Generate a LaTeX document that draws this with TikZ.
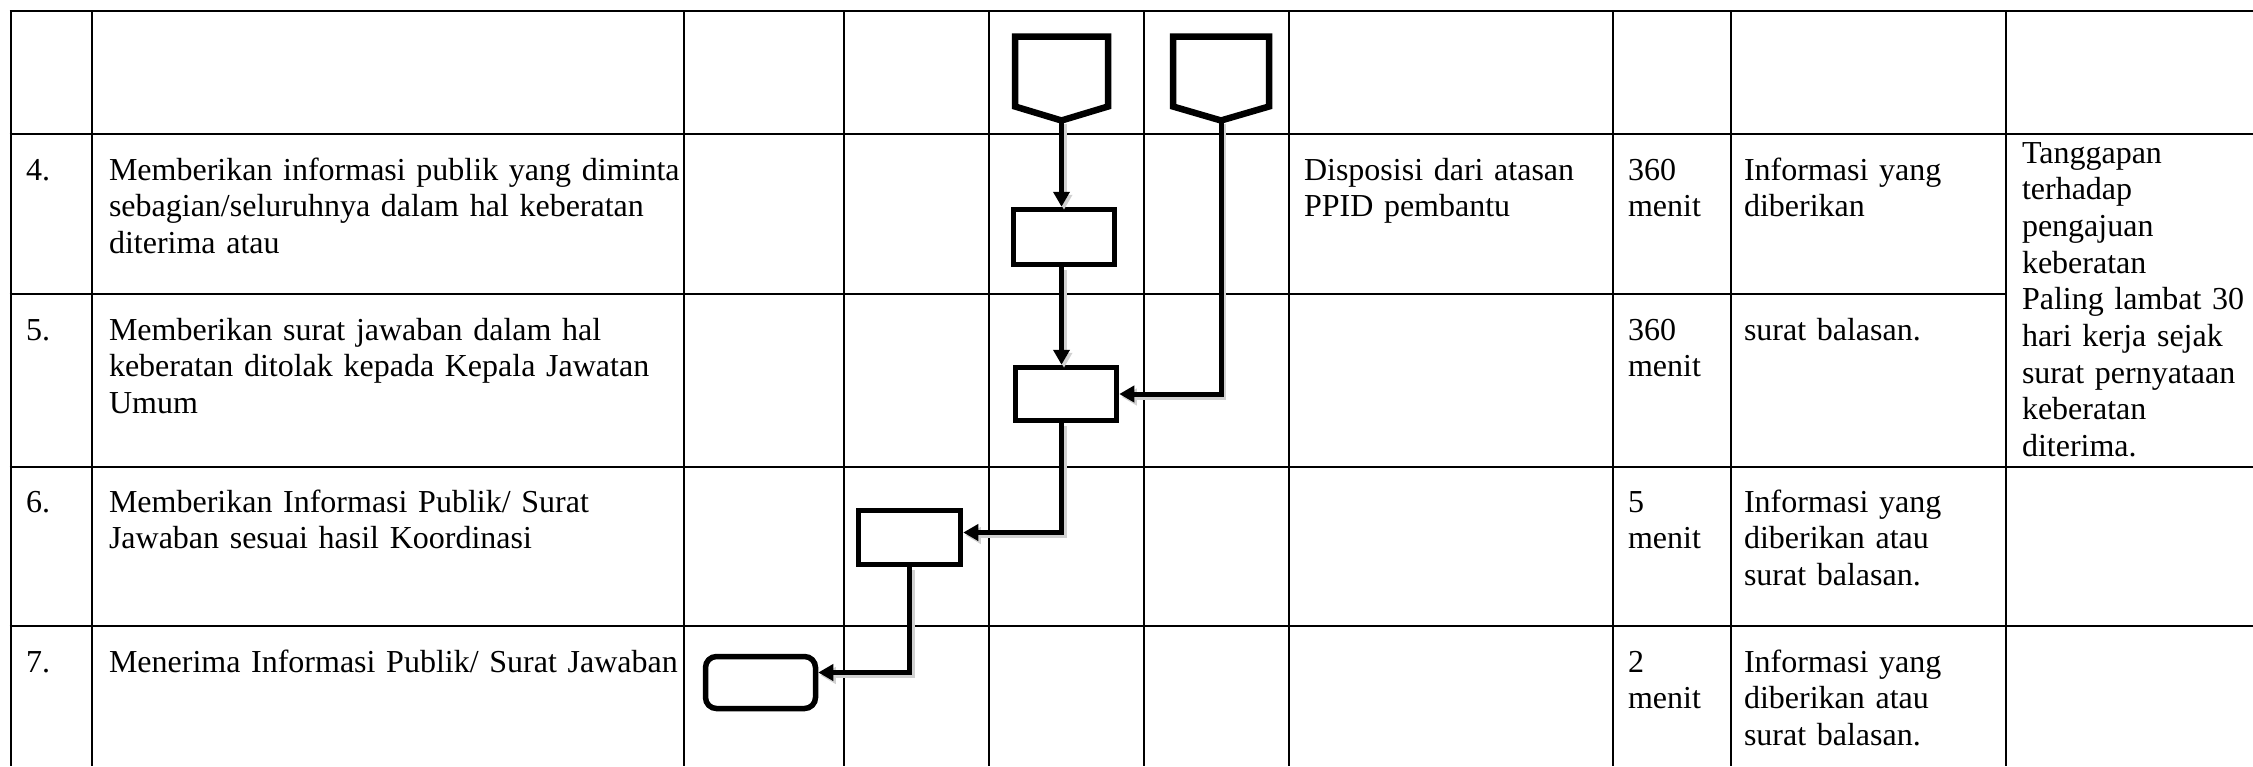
\documentclass[tikz,border=0pt]{standalone}
\usepackage{fontspec}
\setmainfont{Liberation Serif}
\usetikzlibrary{arrows.meta,calc}
\begin{document}
\begin{tikzpicture}[x=1pt,y=-1pt,
  gridline/.style={line width=2pt},
  cell/.style={anchor=base west, inner sep=0pt, outer sep=0pt, align=left, text width=#1,
    font=\fontsize{32pt}{36.7pt}\selectfont},
  cell/.default=800pt,
  box/.style={draw, line width=5.5pt, inner sep=0pt, outer sep=2.75pt},
  anchorbox/.style={inner sep=0pt, outer sep=0pt},
  penta/.style={line width=6.5pt, line join=miter},
  conn/.style={line width=5pt, -{Triangle[length=15pt,width=16pt]},
    preaction={draw=black!18, line width=5pt, -{Triangle[length=15pt,width=16pt]},
      transform canvas={shift={(2.5pt,-3pt)}}}}
]
\useasboundingbox (0,0) rectangle (2253,766);
\fill[white] (0,0) rectangle (2253,766);

% grid
\foreach \x in {10.5,92,684,844,989,1144,1289,1613,1731,2006}
  \draw[gridline] (\x,10) -- (\x,766);
\draw[gridline] (9.5,11) -- (2253,11);
\draw[gridline] (9.5,134) -- (2253,134);
\draw[gridline] (9.5,294) -- (2006,294);
\draw[gridline] (9.5,467) -- (2253,467);
\draw[gridline] (9.5,626) -- (2253,626);

% row 4
\node[cell=200pt] (n4) at (26,180) {4.};
\node[cell] (t4) at (109,180) {Memberikan informasi publik yang diminta\\sebagian/seluruhnya dalam hal keberatan\\diterima atau};
\node[cell=400pt] (d4) at (1304,180) {Disposisi dari atasan\\PPID pembantu};
\node[cell=200pt] (w4) at (1628,180) {360\\menit};
\node[cell=400pt] (o4) at (1744,180) {Informasi yang\\diberikan};
\node[cell=400pt] (k45) at (2022,163) {Tanggapan\\terhadap\\pengajuan\\keberatan\\Paling lambat 30\\hari kerja sejak\\surat pernyataan\\keberatan\\diterima.};

% row 5
\node[cell=200pt] (n5) at (26,340) {5.};
\node[cell] (t5) at (109,340) {Memberikan surat jawaban dalam hal\\keberatan ditolak kepada Kepala Jawatan\\Umum};
\node[cell=200pt] (w5) at (1628,340) {360\\menit};
\node[cell=400pt] (o5) at (1744,340) {surat balasan.};

% row 6
\node[cell=200pt] (n6) at (26,512) {6.};
\node[cell] (t6) at (109,512) {Memberikan Informasi Publik/ Surat\\Jawaban sesuai hasil Koordinasi};
\node[cell=200pt] (w6) at (1628,512) {5\\menit};
\node[cell=400pt] (o6) at (1744,512) {Informasi yang\\diberikan atau\\surat balasan.};

% row 7
\node[cell=200pt] (n7) at (26,672) {7.};
\node[cell] (t7) at (109,672) {Menerima Informasi Publik/ Surat Jawaban};
\node[cell=200pt] (w7) at (1628,672) {2\\menit};
\node[cell=400pt] (o7) at (1744,672) {Informasi yang\\diberikan atau\\surat balasan.};

% off-page connectors (pentagons)
\node[anchorbox, minimum width=93pt, minimum height=84pt] (in1) at (1061.5,78.5) {};
\draw[penta] (in1.north west) -- (in1.north east) -- ([yshift=14pt]in1.south east)
  -- (in1.south) -- ([yshift=14pt]in1.south west) -- cycle;
\node[anchorbox, minimum width=96pt, minimum height=84pt] (in2) at (1221,78.5) {};
\draw[penta] (in2.north west) -- (in2.north east) -- ([yshift=14pt]in2.south east)
  -- (in2.south) -- ([yshift=14pt]in2.south west) -- cycle;

% process boxes
\node[box, minimum width=101pt, minimum height=55pt] (r1) at (1064,237) {};
\node[box, minimum width=101pt, minimum height=53pt] (r2) at (1066,394) {};
\node[box, minimum width=102pt, minimum height=54pt] (r3) at (909.5,537.5) {};
\node[box, rounded corners=11pt, minimum width=110pt, minimum height=52pt] (r4) at (760.5,682.5) {};

% connectors
\draw[conn] (in1.south) -- (in1.south |- r1.north);
\draw[conn] (in1.south |- r1.south) -- (in1.south |- r2.north);
\draw[conn] (in2.south) |- (r2.east);
\draw[conn] (in1.south |- r2.south) |- ([yshift=5pt]r3.east);
\draw[conn] (r3.south) |- ([yshift=10pt]r4.east);
\end{tikzpicture}
\end{document}
